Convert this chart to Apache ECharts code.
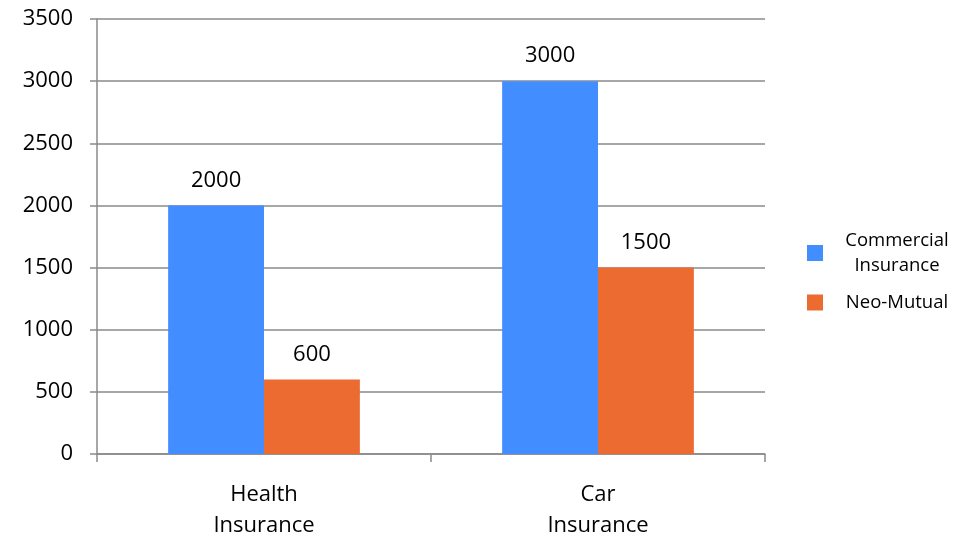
<!DOCTYPE html>
<html><head><meta charset="utf-8">
<script src="https://cdn.jsdelivr.net/npm/echarts@6/dist/echarts.min.js"></script>
<style>html,body{margin:0;padding:0;background:#fff}#c{width:968px;height:538px}</style>
</head><body><div id="c"></div>
<script>
const categories = ['Health\nInsurance', 'Car\nInsurance'];
const seriesNames = ['Commercial\nInsurance', 'Neo-Mutual'];
const commercial = [2000, 3000];
const neoMutual = [600, 1500];
const FONT = 'Open Sans';
const chart = echarts.init(document.getElementById('c'));
chart.setOption({
  animation: false,
  grid: { left: 97, right: 203, top: 19, bottom: 84, containLabel: false, outerBoundsMode: 'none' },
  legend: {
    orient: 'vertical', left: 807, top: 228, padding: 0,
    itemWidth: 16, itemHeight: 16, itemGap: 12,
    icon: 'rect',
    textStyle: { fontFamily: FONT, fontSize: 18.5, color: '#000', lineHeight: 25, padding: [0, 0, 0, 16],
      rich: { a: { fontFamily: FONT, fontSize: 18.5, color: '#000', lineHeight: 25, width: 106, align: 'center' } } },
    formatter: function (n) { return n.split('\n').map(function (s) { return '{a|' + s + '}'; }).join('\n'); },
    data: seriesNames
  },
  xAxis: {
    type: 'category', data: categories,
    axisLine: { lineStyle: { color: '#8a8a8a', width: 1.5 } },
    axisTick: { show: true, length: 8, lineStyle: { color: '#8a8a8a', width: 1.5 } },
    axisLabel: { fontFamily: FONT, fontSize: 22, color: '#000', lineHeight: 31, margin: 25 }
  },
  yAxis: {
    type: 'value', min: 0, max: 3500, interval: 500,
    axisLine: { show: true, lineStyle: { color: '#8a8a8a', width: 1.5 } },
    axisTick: { show: true, length: 7, lineStyle: { color: '#8a8a8a', width: 1.5 } },
    splitLine: { lineStyle: { color: '#8a8a8a', width: 1.5 } },
    axisLabel: { fontFamily: FONT, fontSize: 22, color: '#000', margin: 24, formatter: function (v) { return String(v); } }
  },
  series: [
    { name: seriesNames[0], type: 'bar', data: commercial, barGap: '0%', barCategoryGap: '42.6%',
      itemStyle: { color: '#428DFF' },
      label: { show: true, position: 'top', distance: 14, fontFamily: FONT, fontSize: 22, color: '#000' } },
    { name: seriesNames[1], type: 'bar', data: neoMutual, barGap: '0%', barCategoryGap: '42.6%',
      itemStyle: { color: '#EC6B31' },
      label: { show: true, position: 'top', distance: 14, fontFamily: FONT, fontSize: 22, color: '#000' } }
  ]
});
</script></body></html>
